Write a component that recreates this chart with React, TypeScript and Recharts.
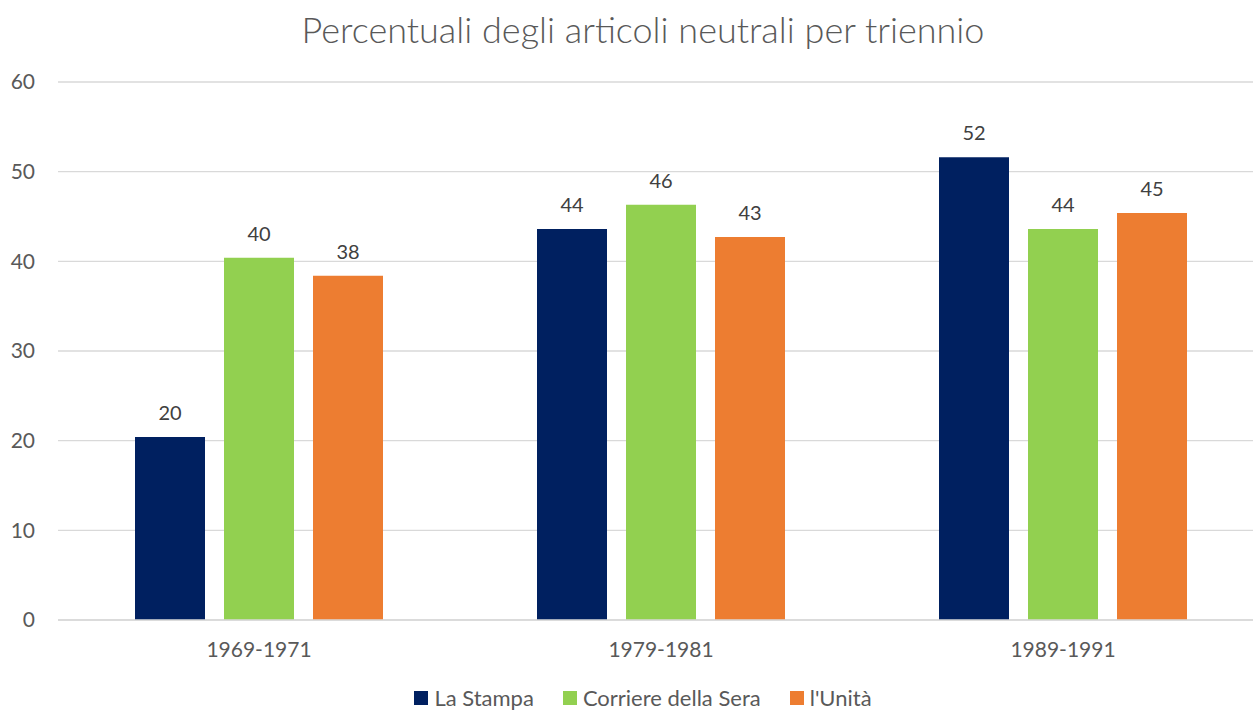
import React from 'react';
import { BarChart, Bar, XAxis, YAxis, CartesianGrid, Legend, LabelList } from 'recharts';

const periods = ['1969-1971', '1979-1981', '1989-1991'];
const laStampa = [20.4, 43.6, 51.6];
const corriere = [40.4, 46.3, 43.6];
const unita = [38.4, 42.7, 45.4];
const yTicks = [0, 10, 20, 30, 40, 50, 60];
const seriesNames = ['La Stampa', 'Corriere della Sera', "l'Unità"];

const data = periods.map((p, i) => ({
  period: p,
  laStampa: laStampa[i],
  corriere: corriere[i],
  unita: unita[i],
}));

const FONT = 'Lato, "Open Sans", sans-serif';

const renderLegend = (props: any) => {
  const items = [...(props.payload || [])].sort(
    (a: any, b: any) => seriesNames.indexOf(a.value) - seriesNames.indexOf(b.value)
  );
  return (
    <div style={{ display: 'flex', justifyContent: 'center', alignItems: 'center', fontFamily: FONT, fontSize: 22, color: '#595959', lineHeight: '24px' }}>
      {items.map((it: any, i: number) => (
        <div key={it.value} style={{ display: 'flex', alignItems: 'center', marginLeft: i === 0 ? 0 : 29 }}>
          <span style={{ display: 'inline-block', width: 14, height: 14, background: it.color, marginRight: 6 }} />
          <span>{it.value}</span>
        </div>
      ))}
    </div>
  );
};

const App: React.FC = () => {
  const labelStyle = { fill: '#404040', fontSize: 20, fontFamily: FONT };
  return (
    <div style={{ position: 'absolute', left: 0, top: 0, width: 1253, height: 713, overflow: 'hidden', background: '#fff' }}>
      <div
        style={{
          position: 'absolute', left: 0, top: 7, width: 1286, textAlign: 'center',
          fontFamily: FONT, fontSize: 36, fontWeight: 300, color: '#595959',
        }}
      >
        Percentuali degli articoli neutrali per triennio
      </div>
      <BarChart
        width={1264}
        height={730}
        data={data}
        margin={{ top: 82, right: 0, bottom: 0, left: 0 }}
        barGap={19}
        barSize={70}
      >
        <CartesianGrid vertical={false} stroke="#d9d9d9" strokeWidth={1.3} />
        <XAxis
          dataKey="period"
          height={70}
          tickLine={false}
          tickSize={0}
          tickMargin={22}
          axisLine={{ stroke: '#d9d9d9', strokeWidth: 1.3 }}
          tick={{ fill: '#595959', fontSize: 21, fontFamily: FONT }}
        />
        <YAxis
          width={58}
          domain={[0, 60]}
          ticks={yTicks}
          axisLine={false}
          tickLine={false}
          tickSize={0}
          tickMargin={23}
          tick={{ fill: '#595959', fontSize: 21, fontFamily: FONT }}
        />
        <Legend
          verticalAlign="bottom"
          height={40}
          content={renderLegend}
          wrapperStyle={{ left: 0, width: 1286, top: 686 }}
        />
        <Bar dataKey="laStampa" name={seriesNames[0]} fill="#002060" isAnimationActive={false}>
          <LabelList dataKey="laStampa" position="top" offset={17} formatter={(v: number) => Math.round(v)} style={labelStyle} />
        </Bar>
        <Bar dataKey="corriere" name={seriesNames[1]} fill="#92D050" isAnimationActive={false}>
          <LabelList dataKey="corriere" position="top" offset={17} formatter={(v: number) => Math.round(v)} style={labelStyle} />
        </Bar>
        <Bar dataKey="unita" name={seriesNames[2]} fill="#ED7D31" isAnimationActive={false}>
          <LabelList dataKey="unita" position="top" offset={17} formatter={(v: number) => Math.round(v)} style={labelStyle} />
        </Bar>
      </BarChart>
    </div>
  );
};

export default App;
